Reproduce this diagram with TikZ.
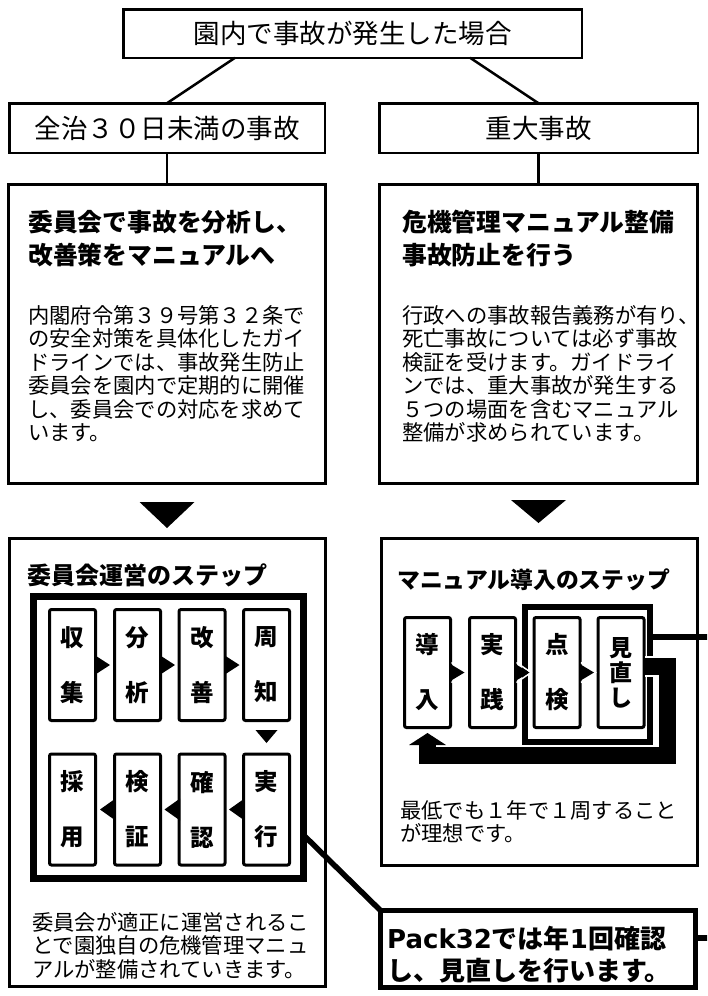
\documentclass[tikz,border=0pt]{standalone}
\usepackage{fontspec}
\setmainfont{Noto Sans CJK JP}
\newfontfamily\latb{DejaVu Sans}
\usetikzlibrary{calc}
\tikzset{
  hbox/.style={draw, line width=2.5pt, outer sep=0pt, inner sep=0pt, font=\fontsize{26.5}{30}\selectfont},
  bigbox/.style={draw, line width=3pt, outer sep=0pt, inner sep=0pt},
  stepcell/.style={draw, line width=3pt, rounded corners=2pt, outer sep=0pt, inner sep=0pt,
     minimum width=46pt, minimum height=111pt, font=\fontsize{23.5}{55}\selectfont\bfseries, align=center},
  thickframe/.style={draw, line width=7pt, outer sep=0pt, inner sep=0pt},
  bodytext/.style={anchor=north west, inner sep=0pt, align=left, font=\fontsize{21.3}{23.5}\selectfont},
  titletext/.style={anchor=north west, inner sep=0pt, align=left, font=\fontsize{24.8}{33}\selectfont\bfseries},
  conn/.style={draw, line width=2.5pt},
  tri/.style={fill=black},
}
\begin{document}
\begin{tikzpicture}[x=1pt,y=-1pt]
\useasboundingbox (0,0) rectangle (707,996);
\clip (0,0) rectangle (707,996);
\fill[white] (0,0) rectangle (707,996);

% header boxes
\node[hbox, minimum width=458.5pt, minimum height=48.5pt] (top) at (352.5,33.5) {園内で事故が発生した場合};
\node[hbox, minimum width=315.5pt, minimum height=49.5pt] (b1) at (167,128) {全治３０日未満の事故};
\node[hbox, minimum width=318.5pt, minimum height=49.5pt] (b2) at (538.5,128) {重大事故};

% big boxes
\node[bigbox, minimum width=317pt, minimum height=299pt] (bigL) at (167,334) {};
\node[bigbox, minimum width=318pt, minimum height=299pt] (bigR) at (538.5,334) {};
\node[titletext] (tL) at (28,210) {委員会で事故を分析し、\\改善策をマニュアルへ};
\node[titletext] (tR) at (402,210) {危機管理マニュアル整備\\事故防止を行う};
\node[bodytext] (xL) at (28,305) {内閣府令第３９号第３２条で\\の安全対策を具体化したガイ\\ドラインでは、事故発生防止\\委員会を園内で定期的に開催\\し、委員会での対応を求めて\\います。};
\node[bodytext] (xR) at (402,305) {行政への事故報告義務が有り、\\死亡事故については必ず事故\\検証を受けます。ガイドライ\\ンでは、重大事故が発生する\\５つの場面を含むマニュアル\\整備が求められています。};

\draw[conn] ([xshift=-117.5pt]top.south) -- (b1.north);
\draw[conn] ([xshift=117.5pt]top.south) -- (b2.north);
\draw[conn] (b1.south) -- (bigL.north);
\draw[conn] (b2.south) -- (bigR.north);

% step boxes
\node[bigbox, minimum width=316pt, minimum height=448pt] (sbL) at (167.5,762.5) {};
\node[bigbox, minimum width=316pt, minimum height=327pt] (sbR) at (539.5,702) {};

\fill[tri] ($(bigL.south)+(-27.5,18.5)$) -- ($(bigL.south)+(27.5,18.5)$) -- ($(bigL.south)+(0,44.5)$) -- cycle;
\fill[tri] ($(bigR.south)+(-27.5,16.5)$) -- ($(bigR.south)+(27.5,16.5)$) -- ($(bigR.south)+(0,39.5)$) -- cycle;

% left steps
\node[anchor=west, inner sep=0pt, font=\fontsize{24}{28}\selectfont\bfseries] (stL) at (27,575) {委員会運営のステップ};
\node[thickframe, minimum width=270pt, minimum height=282pt] (lf) at (168.5,737.5) {};
\node[stepcell] (s1) at (72.5,665) {収\\集};
\node[stepcell] (s2) at (137.5,665) {分\\析};
\node[stepcell] (s3) at (202,665) {改\\善};
\node[stepcell] (s4) at (266.5,665) {周\\知};
\node[stepcell] (s5) at (72.5,809.5) {採\\用};
\node[stepcell] (s6) at (137.5,809.5) {検\\証};
\node[stepcell] (s7) at (202,809.5) {確\\認};
\node[stepcell] (s8) at (266.5,809.5) {実\\行};
\foreach \a in {s1,s2,s3}{
  \fill[tri] ($(\a.east)+(-1,-10)$) -- ($(\a.east)+(14.5,0)$) -- ($(\a.east)+(-1,10)$) -- cycle;
}
\foreach \a in {s6,s7,s8}{
  \fill[tri] ($(\a.west)+(1,-11)$) -- ($(\a.west)+(-14.5,0)$) -- ($(\a.west)+(1,11)$) -- cycle;
}
\fill[tri] ($(s8.north)+(-11,-24)$) -- ($(s8.north)+(11,-24)$) -- ($(s8.north)+(0,-11)$) -- cycle;
\node[bodytext] (xL2) at (32,912) {委員会が適正に運営されるこ\\とで園独自の危機管理マニュ\\アルが整備されていきます。};

% right steps
\node[anchor=west, inner sep=0pt, font=\fontsize{22.8}{28}\selectfont\bfseries] (stR) at (397,580) {マニュアル導入のステップ};
\node[draw, line width=6pt, outer sep=0pt, inner sep=0pt, minimum width=125pt, minimum height=135pt,
      preaction={draw=white, line width=10pt}] (rf) at (587.5,674.5) {};
\node[stepcell, minimum height=110pt] (r1) at (427.5,672.5) {導\\入};
\node[stepcell, minimum height=110pt] (r2) at (492.5,672.5) {実\\践};
\node[stepcell, minimum height=110pt] (r3) at (557,672.5) {点\\検};
\node[stepcell, minimum height=110pt, font=\fontsize{23}{25}\selectfont\bfseries] (r4) at (621,672.5) {見\\直\\し};
\foreach \a in {r1,r2,r3}{
  \draw[white, line width=1.5pt] ($(\a.east)+(1,-10)$) -- ($(\a.east)+(15.5,0)$) -- ($(\a.east)+(1,10)$);
  \fill[tri] ($(\a.east)+(-1,-9)$) -- ($(\a.east)+(14,0)$) -- ($(\a.east)+(-1,9)$) -- cycle;
}
% return loop
\draw[line width=17pt, preaction={draw=white, line width=21pt}]
  ($(rf.east)+(-5,-8.5)$) -| (667,755) -| ($(r1.south)+(0,16.5)$);
\fill[tri] ($(r1.south)+(0,5.5)$) -- ($(r1.south)+(18.5,17.5)$) -- ($(r1.south)+(-18.5,17.5)$) -- cycle;
\node[bodytext] (xR2) at (400,800) {最低でも１年で１周すること\\が理想です。};

% callout
\node[draw, line width=5pt, outer sep=0pt, inner sep=0pt, minimum width=315pt, minimum height=77pt] (callout) at (538,949) {};
\node[anchor=north west, inner sep=0pt, align=left, font=\fontsize{26}{32}\selectfont\bfseries] (ct) at (387,926)
  {{\latb Pack32}では年{\latb 1}回確認\\し、見直しを行います。};
\draw[line width=5.5pt] ($(lf.east)+(0,97.5)$) -- (callout.north west);
\draw[line width=6.5pt] ($(rf.east)+(0,-37.5)$) -- ++(70,0) |- ($(callout.east)+(0,-11)$);
\end{tikzpicture}
\end{document}
